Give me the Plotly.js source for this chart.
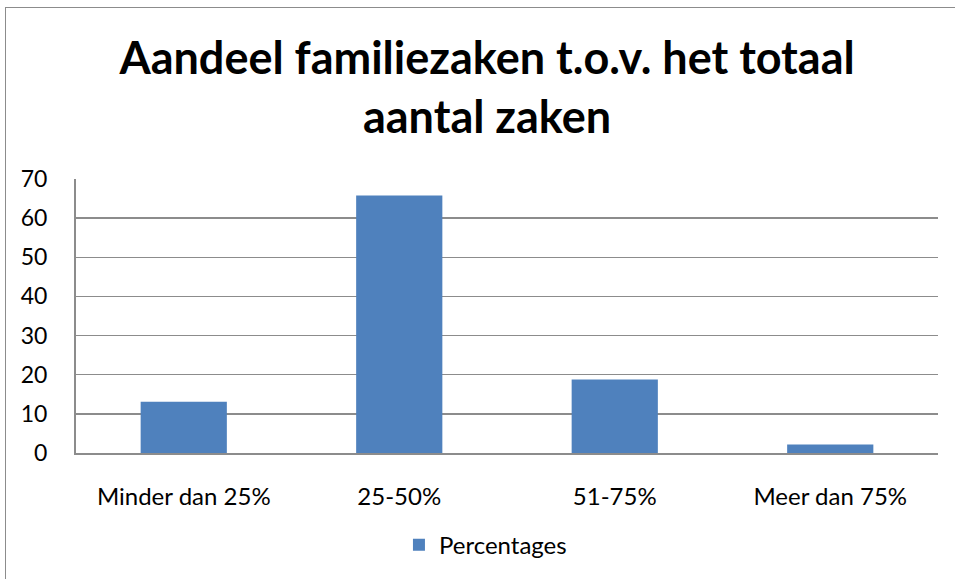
<!DOCTYPE html>
<html>
<head>
<meta charset="utf-8">
<script src="https://cdn.plot.ly/plotly-3.0.1.min.js"></script>
<style>
  html, body { margin: 0; padding: 0; background: #fff; }
  #wrap { position: relative; width: 955px; height: 579px; overflow: hidden; }
  #frame { position: absolute; left: 5px; top: 7px; width: 960px; height: 600px; border: 1px solid #8c8c8c; box-sizing: border-box; pointer-events: none; }
  #chart { position: absolute; left: 0; top: 0; width: 955px; height: 579px; }
</style>
</head>
<body>
<div id="wrap">
  <div id="chart"></div>
  <div id="frame"></div>
</div>
<script>
const categories = ["Minder dan 25%", "25-50%", "51-75%", "Meer dan 75%"];
const percentages = [13.1, 65.8, 18.8, 2.2];
const seriesName = "Percentages";
const yTicks = [0, 10, 20, 30, 40, 50, 60, 70];

const font = "Lato, Carlito, 'Liberation Sans', sans-serif";

Plotly.newPlot("chart", [{
  type: "bar",
  x: categories,
  y: percentages,
  name: seriesName,
  marker: { color: "#4f81bd" },
  width: 0.4,
  showlegend: true
}], {
  width: 955, height: 579,
  margin: { l: 76, r: 17, t: 179, b: 126, pad: 0 },
  paper_bgcolor: "#ffffff",
  plot_bgcolor: "#ffffff",
  font: { family: font, size: 23, color: "#000000" },
  title: {
    text: "<b>Aandeel familiezaken t.o.v. het totaal<br>aantal zaken</b>",
    font: { family: font, size: 45, color: "#000000" },
    x: 0.51, xanchor: "center",
    yref: "container", y: 1 - 74 / 579, yanchor: "middle"
  },
  xaxis: {
    type: "category",
    showline: true, linecolor: "#8c8c8c", linewidth: 2,
    showgrid: false, ticks: "", ticklabelstandoff: 21,
    tickfont: { family: font, size: 24, color: "#000" }
  },
  yaxis: {
    range: [0, 70], tickvals: yTicks,
    showline: true, linecolor: "#8c8c8c", linewidth: 2,
    showgrid: true, gridcolor: "#8c8c8c", gridwidth: 1.5,
    zeroline: false, ticks: "", ticklabelstandoff: 22,
    tickfont: { family: font, size: 23, color: "#000" }
  },
  legend: {
    orientation: "h", x: 0.475, xanchor: "center",
    y: -0.336, yanchor: "middle",
    font: { family: font, size: 24, color: "#000" }
  },
  bargap: 0.6
}, { displayModeBar: false, staticPlot: true });
</script>
</body>
</html>
